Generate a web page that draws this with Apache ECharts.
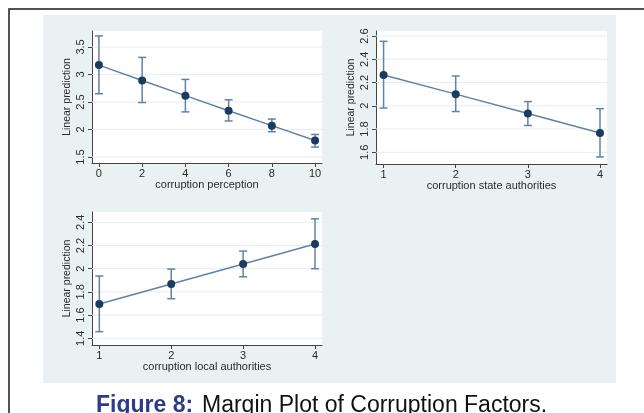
<!DOCTYPE html>
<html>
<head>
<meta charset="utf-8">
<script src="https://cdn.jsdelivr.net/npm/echarts@6/dist/echarts.min.js"></script>
<style>
  html, body { margin: 0; padding: 0; background: #ffffff; }
  #chart { width: 644px; height: 413px; }
</style>
</head>
<body>
<div id="chart"></div>
<script>
// Predictive margins with 95% confidence intervals
const perceptionLevels = [0, 2, 4, 6, 8, 10];
const perceptionFit    = [3.17, 2.89, 2.615, 2.34, 2.07, 1.80];
const perceptionLow    = [2.65, 2.49, 2.32, 2.155, 1.96, 1.68];
const perceptionHigh   = [3.70, 3.31, 2.91, 2.54, 2.19, 1.91];

const stateLevels = [1, 2, 3, 4];
const stateFit    = [2.265, 2.10, 1.933, 1.766];
const stateLow    = [1.98, 1.95, 1.83, 1.56];
const stateHigh   = [2.554, 2.256, 2.036, 1.975];

const localLevels = [1, 2, 3, 4];
const localFit    = [1.696, 1.868, 2.04, 2.213];
const localLow    = [1.457, 1.741, 1.93, 2.00];
const localHigh   = [1.937, 1.997, 2.152, 2.43];

// Tick labels
const perceptionXTicks = [0, 2, 4, 6, 8, 10];
const perceptionYTicks = [1.5, 2, 2.5, 3, 3.5];
const stateXTicks = [1, 2, 3, 4];
const stateYTicks = [1.6, 1.8, 2, 2.2, 2.4, 2.6];
const localXTicks = [1, 2, 3, 4];
const localYTicks = [1.4, 1.6, 1.8, 2, 2.2, 2.4];

const yTitle = 'Linear prediction';
const captionLead = 'Figure 8:';
const captionText = 'Margin Plot of Corruption Factors.';

const FONT = "'Liberation Sans', Arial, sans-serif";
const AXIS_COLOR = '#444';
const TEXT_COLOR = '#2b2b2b';
const LINE_COLOR = '#5f83a6';
const MARKER_COLOR = '#1b3c60';
const GRID_LINE = '#e4edf0';

const panels = [
  { xs: perceptionLevels, fit: perceptionFit, lo: perceptionLow, hi: perceptionHigh,
    xTicks: perceptionXTicks, yTicks: perceptionYTicks, xTitle: 'corruption perception',
    xMin: -0.32, xMax: 10.32, yMin: 1.391, yMax: 3.79,
    grid: { left: 92, top: 31, right: 322, bottom: 250 } },
  { xs: stateLevels, fit: stateFit, lo: stateLow, hi: stateHigh,
    xTicks: stateXTicks, yTicks: stateYTicks, xTitle: 'corruption state authorities',
    xMin: 0.895, xMax: 4.097, yMin: 1.499, yMax: 2.643,
    grid: { left: 376, top: 31, right: 37, bottom: 249 } },
  { xs: localLevels, fit: localFit, lo: localLow, hi: localHigh,
    xTicks: localXTicks, yTicks: localYTicks, xTitle: 'corruption local authorities',
    xMin: 0.898, xMax: 4.097, yMin: 1.342, yMax: 2.489,
    grid: { left: 92, top: 212, right: 322, bottom: 68 } }
];

const grids = [], xAxes = [], yAxes = [], series = [];

panels.forEach((p, i) => {
  grids.push(Object.assign({
    show: true, backgroundColor: '#ffffff', borderWidth: 0, containLabel: false
  }, p.grid));

  xAxes.push({
    type: 'value', gridIndex: i, min: p.xMin, max: p.xMax,
    name: p.xTitle, nameLocation: 'middle', nameGap: 16,
    nameTextStyle: { fontFamily: FONT, fontSize: 11, color: TEXT_COLOR },
    axisLine: { show: true, onZero: false, lineStyle: { color: AXIS_COLOR, width: 1 } },
    axisTick: { show: true, length: 4, customValues: p.xTicks, lineStyle: { color: AXIS_COLOR } },
    axisLabel: { customValues: p.xTicks, margin: 5, fontFamily: FONT, fontSize: 11, color: TEXT_COLOR },
    splitLine: { show: false }
  });

  yAxes.push({
    type: 'value', gridIndex: i, min: p.yMin, max: p.yMax,
    name: yTitle, nameLocation: 'middle', nameGap: 19,
    nameTextStyle: { fontFamily: FONT, fontSize: 10.5, color: TEXT_COLOR },
    axisLine: { show: true, onZero: false, lineStyle: { color: AXIS_COLOR, width: 1 } },
    axisTick: { show: true, length: 4, customValues: p.yTicks, lineStyle: { color: AXIS_COLOR } },
    axisLabel: { customValues: p.yTicks, rotate: 90, margin: 6, fontFamily: FONT, fontSize: 11,
                 color: TEXT_COLOR, formatter: v => String(+v.toFixed(2)) },
    splitLine: { show: false }
  });

  // faint horizontal gridlines at the labelled values, across the plot region
  series.push({
    type: 'custom', xAxisIndex: i, yAxisIndex: i, z: 1, silent: true,
    data: p.yTicks.map(v => [p.xs[0], v]),
    encode: { x: 0, y: 1 },
    renderItem: (params, api) => {
      const cs = params.coordSys;
      const pt = api.coord([api.value(0), api.value(1)]);
      return {
        type: 'line',
        shape: { x1: cs.x, y1: pt[1], x2: cs.x + cs.width, y2: pt[1] },
        style: { stroke: GRID_LINE, lineWidth: 1 }
      };
    }
  });

  // confidence intervals with caps
  series.push({
    type: 'custom', xAxisIndex: i, yAxisIndex: i, z: 2, silent: true,
    data: p.xs.map((x, k) => [x, p.lo[k], p.hi[k]]),
    encode: { x: 0, y: [1, 2] },
    renderItem: (params, api) => {
      const top = api.coord([api.value(0), api.value(2)]);
      const bot = api.coord([api.value(0), api.value(1)]);
      const w = 4;
      const style = { stroke: LINE_COLOR, lineWidth: 1.5 };
      return {
        type: 'group',
        children: [
          { type: 'line', shape: { x1: top[0], y1: top[1], x2: bot[0], y2: bot[1] }, style },
          { type: 'line', shape: { x1: top[0] - w, y1: top[1], x2: top[0] + w, y2: top[1] }, style },
          { type: 'line', shape: { x1: bot[0] - w, y1: bot[1], x2: bot[0] + w, y2: bot[1] }, style }
        ]
      };
    }
  });

  // fitted margins
  series.push({
    type: 'line', xAxisIndex: i, yAxisIndex: i, z: 3, silent: true,
    data: p.xs.map((x, k) => [x, p.fit[k]]),
    symbol: 'circle', symbolSize: 8, showSymbol: true,
    lineStyle: { color: LINE_COLOR, width: 1.5 },
    itemStyle: { color: MARKER_COLOR, borderWidth: 0 }
  });
});

const chart = echarts.init(document.getElementById('chart'), null, { renderer: 'canvas' });
chart.setOption({
  animation: false,
  backgroundColor: '#ffffff',
  grid: grids,
  xAxis: xAxes,
  yAxis: yAxes,
  series: series,
  graphic: [
    { type: 'rect', z: -10, silent: true,
      shape: { x: 9, y: 9, width: 700, height: 500 },
      style: { fill: 'none', stroke: '#1a1a1a', lineWidth: 1.5 } },
    { type: 'rect', z: -5, silent: true,
      shape: { x: 43, y: 15, width: 573, height: 368 },
      style: { fill: '#eaf1f3' } },
    { type: 'text', silent: true, x: 96, y: 406,
      style: { text: captionLead, font: "bold 23px " + FONT, fill: '#2e3a8c',
               verticalAlign: 'middle', align: 'left' } },
    { type: 'text', silent: true, x: 202, y: 406,
      style: { text: captionText, font: "23px " + FONT, fill: '#111',
               verticalAlign: 'middle', align: 'left' } }
  ]
});
</script>
</body>
</html>
